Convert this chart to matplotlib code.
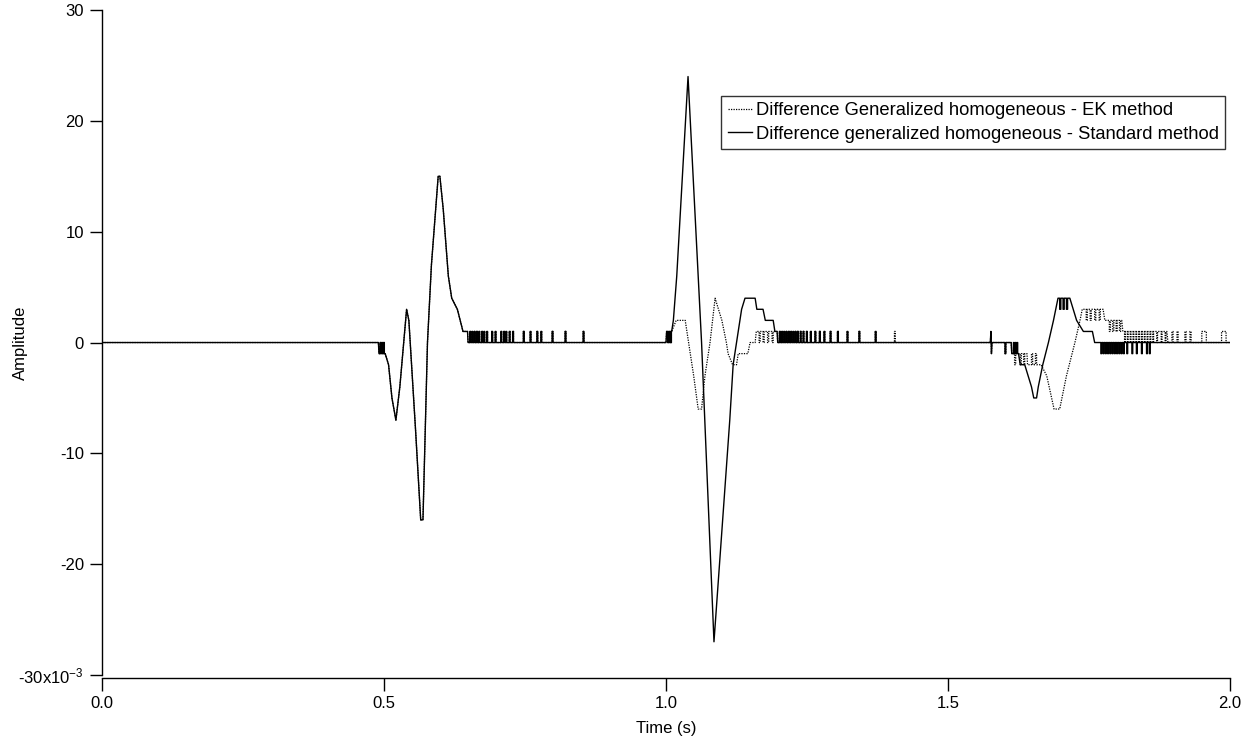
import numpy as np
import matplotlib
matplotlib.use("Agg")
import matplotlib.pyplot as plt

plt.rcParams['font.family'] = ['Liberation Sans', 'DejaVu Sans']
plt.rcParams['mathtext.default'] = 'regular'

# amplitudes are in units of 1e-3
# first arrival, identical for both methods
onset_t = [0.000, 0.490, 0.491, 0.502, 0.508, 0.514, 0.521, 0.528, 0.540, 0.544,
           0.556, 0.565, 0.569, 0.577, 0.584, 0.596, 0.599, 0.605, 0.614, 0.620,
           0.630, 0.635, 0.640, 0.648, 0.649]
onset_v = [0, 0, -1, -1, -2, -5, -7, -4, 3, 2,
           -8, -16, -16, 0, 7, 15, 15, 12, 6, 4,
           3, 2, 1, 1, 0]
onset_spikes = [
    ([0.493, 0.496, 0.499], -1, 0, 0.0015),
    ([0.652, 0.656, 0.660, 0.664, 0.668, 0.673, 0.677, 0.682, 0.691, 0.697,
      0.707, 0.712, 0.716, 0.722, 0.728, 0.747, 0.759, 0.771, 0.778, 0.798,
      0.821, 0.853], 0, 1, 0.0015),
]

# generalized homogeneous - standard method
std_t = [1.000, 1.001, 1.010, 1.013, 1.019, 1.039, 1.063, 1.085, 1.113, 1.119,
         1.125, 1.134, 1.140, 1.158, 1.161, 1.172, 1.176, 1.190, 1.193, 1.197,
         1.198, 1.575, 1.576, 1.577, 1.578, 1.612, 1.613, 1.625, 1.628, 1.636,
         1.642, 1.648, 1.652, 1.657, 1.660, 1.668, 1.678, 1.687, 1.695, 1.716,
         1.728, 1.740, 1.756, 1.760, 2.000]
std_v = [0, 1, 1, 2, 6, 24, 0, -27, -7, -2,
         0, 3, 4, 4, 3, 3, 2, 2, 1, 1,
         0, 0, 1, -1, 0, 0, -1, -1, -2, -2,
         -3, -4, -5, -5, -4, -2, 0, 2, 4, 4,
         2, 1, 1, 0, 0]
std_spikes = [
    ([1.003, 1.006, 1.008], 1, 0, 0.0015),
    ([1.201, 1.205, 1.209, 1.213, 1.217, 1.221, 1.225, 1.229, 1.233, 1.238,
      1.243, 1.249, 1.256, 1.264, 1.272, 1.280, 1.291, 1.304, 1.321, 1.342,
      1.371], 0, 1, 0.0015),
    ([1.601], 0, -1, 0.0015),
    ([1.616, 1.619, 1.622], -1, 0, 0.0015),
    ([1.698, 1.704, 1.710], 4, 3, 0.002),
    ([1.771, 1.775, 1.779, 1.783, 1.787, 1.791, 1.795, 1.799, 1.803, 1.807,
      1.811, 1.817, 1.826, 1.834, 1.843, 1.852, 1.857], 0, -1, 0.0015),
]

# generalized homogeneous - EK method
ek_t = [1.000, 1.001, 1.010, 1.018, 1.034, 1.040, 1.049, 1.057, 1.063, 1.069,
        1.078, 1.087, 1.099, 1.107, 1.110, 1.118, 1.125, 1.128, 1.145, 1.149,
        1.158, 1.160, 1.197, 1.198, 1.575, 1.576, 1.577, 1.578, 1.612, 1.613,
        1.640, 1.641, 1.665, 1.675, 1.688, 1.698, 1.710, 1.725, 1.734, 1.738,
        1.775, 1.778, 1.808, 1.810, 1.888, 1.890, 2.000]
ek_v = [0, 1, 1, 2, 2, 0, -3, -6, -6, -3,
        0, 4, 2, 0, -1, -2, -2, -1, -1, 0,
        0, 1, 1, 0, 0, 1, -1, 0, 0, -1,
        -1, -2, -2, -3, -6, -6, -3, 0, 2, 3,
        3, 2, 2, 1, 1, 0, 0]
ek_spikes = [
    ([1.003, 1.006, 1.008], 1, 0, 0.0015),
    ([1.165, 1.172, 1.180, 1.188], 1, 0, 0.002),
    ([1.201, 1.205, 1.209, 1.213, 1.217, 1.221, 1.225, 1.229, 1.233, 1.238,
      1.243, 1.249, 1.256, 1.264, 1.272, 1.280, 1.291, 1.304, 1.321, 1.342,
      1.371, 1.405], 0, 1, 0.0015),
    ([1.601], 0, -1, 0.0015),
    ([1.618, 1.628, 1.634], -1, -2, 0.002),
    ([1.648, 1.655], -2, -1, 0.002),
    ([1.745, 1.752, 1.760, 1.768], 3, 2, 0.002),
    ([1.786, 1.792, 1.798, 1.804], 2, 1, 0.002),
    ([1.813, 1.818, 1.823, 1.828, 1.833, 1.838, 1.843, 1.848, 1.853, 1.858,
      1.863, 1.870, 1.878, 1.885], 1, 0, 0.0015),
    ([1.897, 1.906, 1.920, 1.929], 0, 1, 0.002),
    ([1.950, 1.985], 0, 1, 0.008),
]


def build(key_t, key_v, spikes):
    # merge the waveform points with the quantisation spikes, in time order
    pts = list(zip(key_t, key_v))
    for times, base, peak, w in spikes:
        for ts in times:
            pts += [(ts, base), (ts + 1e-5, peak), (ts + w, peak), (ts + w + 1e-5, base)]
    pts.sort(key=lambda p: p[0])
    t = np.array([p[0] for p in pts])
    v = np.array([p[1] for p in pts])
    return t, v


t_std, v_std = build(onset_t + std_t, onset_v + std_v, onset_spikes + std_spikes)
t_ek, v_ek = build(onset_t + ek_t, onset_v + ek_v, onset_spikes + ek_spikes)

fig = plt.figure(figsize=(12.6, 7.44), dpi=100)
ax = fig.add_axes([0.081, 0.0927, 0.8952, 0.8938])

ax.plot(t_ek, v_ek, color='black', lw=0.9, ls=(0, (1, 1)), zorder=2,
        label='Difference Generalized homogeneous - EK method')
ax.plot(t_std, v_std, color='black', lw=1.0, zorder=3,
        label='Difference generalized homogeneous - Standard method')

ax.set_xlim(0, 2.0)
ax.set_ylim(-30, 30)

ax.spines['top'].set_visible(False)
ax.spines['right'].set_visible(False)
ax.spines['bottom'].set_position(('outward', 2))
for s in ('left', 'bottom'):
    ax.spines[s].set_linewidth(1.0)

yt = [-30, -20, -10, 0, 10, 20, 30]
ax.set_yticks(yt)
ax.set_yticklabels(['-30x10$^{-3}$', '-20', '-10', '0', '10', '20', '30'])
xt = [0.0, 0.5, 1.0, 1.5, 2.0]
ax.set_xticks(xt)
ax.set_xticklabels(['0.0', '0.5', '1.0', '1.5', '2.0'])
ax.tick_params(direction='out', length=9, width=1, labelsize=12, pad=4)

ax.set_ylabel('Amplitude', fontsize=12)
ax.yaxis.set_label_coords(-0.066, 0.5)
ax.set_xlabel('Time (s)', fontsize=12)
ax.xaxis.set_label_coords(0.5, -0.069)

leg = ax.legend(loc='upper right', bbox_to_anchor=(0.9956, 0.871), fontsize=13.2,
                frameon=True, fancybox=False, handlelength=1.35, handletextpad=0.18,
                borderpad=0.35, labelspacing=0.35, borderaxespad=0)
leg.get_frame().set_edgecolor('black')
leg.get_frame().set_linewidth(1.0)

fig.savefig('out.png', dpi=100)
